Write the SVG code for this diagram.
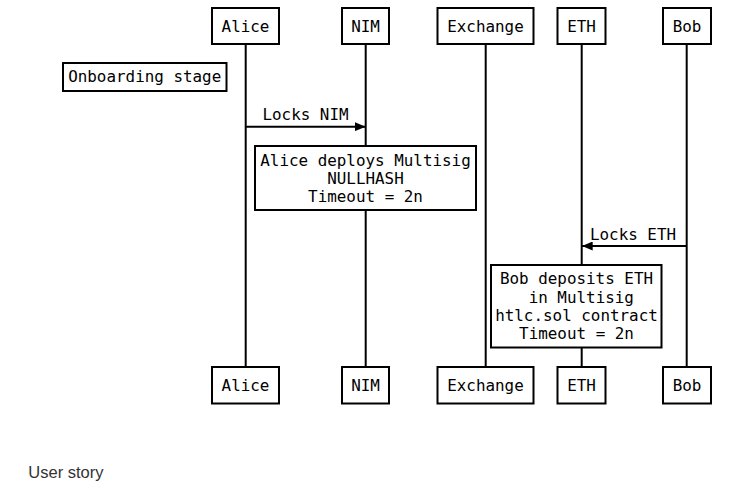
<svg xmlns="http://www.w3.org/2000/svg" width="744" height="500" viewBox="0 0 744 500">
<defs>
<style>
.box{fill:#fff;stroke:#000;stroke-width:2}
.life{stroke:#000;stroke-width:2;fill:none}
.msg{stroke:#000;stroke-width:2;fill:none}
.t{font-family:"DejaVu Sans Mono","Liberation Mono",monospace;font-size:15.9px;fill:#000;text-anchor:middle}
.cap{font-family:"Liberation Sans",Arial,sans-serif;font-size:16.5px;fill:#333}
</style>
<marker id="ah" markerWidth="11" markerHeight="9" refX="11" refY="4.5" orient="auto" markerUnits="userSpaceOnUse">
<path d="M0,0 L11,4.5 L0,9 Z" fill="#000"/>
</marker>
</defs>
<rect width="744" height="500" fill="#fff"/>
<g id="lifelines">
<line class="life" x1="245.7" y1="44" x2="245.7" y2="367"/>
<line class="life" x1="365.7" y1="44" x2="365.7" y2="367"/>
<line class="life" x1="485.7" y1="44" x2="485.7" y2="367"/>
<line class="life" x1="581.7" y1="44" x2="581.7" y2="367"/>
<line class="life" x1="686.7" y1="44" x2="686.7" y2="367"/>
</g>
<g id="connectors">
<line class="msg" x1="245.7" y1="126.7" x2="365.7" y2="126.7" marker-end="url(#ah)"/>
<text class="t" x="305.5" y="119.5">Locks NIM</text>
<line class="msg" x1="686.7" y1="246" x2="581.7" y2="246" marker-end="url(#ah)"/>
<text class="t" x="633" y="240">Locks ETH</text>
</g>
<g id="alice-top"><rect class="box" x="212" y="8" width="67" height="36"/><text class="t" x="245.5" y="32">Alice</text></g>
<g id="nim-top"><rect class="box" x="342" y="8" width="47" height="36"/><text class="t" x="365.5" y="32">NIM</text></g>
<g id="exchange-top"><rect class="box" x="437.5" y="8" width="96" height="36"/><text class="t" x="485.5" y="32">Exchange</text></g>
<g id="eth-top"><rect class="box" x="557.5" y="8" width="48" height="36"/><text class="t" x="581.5" y="32">ETH</text></g>
<g id="bob-top"><rect class="box" x="663" y="8" width="48" height="36"/><text class="t" x="687" y="32">Bob</text></g>
<g id="onboarding"><rect class="box" x="63" y="63" width="163.5" height="28"/><text class="t" x="144.7" y="82.3">Onboarding stage</text></g>
<g id="note-alice">
<rect class="box" x="255" y="146" width="221" height="64"/>
<text class="t" x="365.5" y="165.7">Alice deploys Multisig</text>
<text class="t" x="365.5" y="183.5">NULLHASH</text>
<text class="t" x="365.5" y="201.5">Timeout = 2n</text>
</g>
<g id="note-bob">
<rect class="box" x="491" y="265" width="170.5" height="82.5"/>
<text class="t" x="576.5" y="284">Bob deposits ETH</text>
<text class="t" x="581.3" y="302.5">in Multisig</text>
<text class="t" x="576.5" y="320.7">htlc.sol contract</text>
<text class="t" x="576.5" y="339.3">Timeout = 2n</text>
</g>
<g id="alice-bottom"><rect class="box" x="212" y="367" width="67" height="36.5"/><text class="t" x="245.5" y="391">Alice</text></g>
<g id="nim-bottom"><rect class="box" x="342" y="367" width="47" height="36.5"/><text class="t" x="365.5" y="391">NIM</text></g>
<g id="exchange-bottom"><rect class="box" x="437.5" y="367" width="96" height="36.5"/><text class="t" x="485.5" y="391">Exchange</text></g>
<g id="eth-bottom"><rect class="box" x="557.5" y="367" width="48" height="36.5"/><text class="t" x="581.5" y="391">ETH</text></g>
<g id="bob-bottom"><rect class="box" x="663" y="367" width="48" height="36.5"/><text class="t" x="687" y="391">Bob</text></g>
<text class="cap" x="28.3" y="477.5">User story</text>
</svg>
